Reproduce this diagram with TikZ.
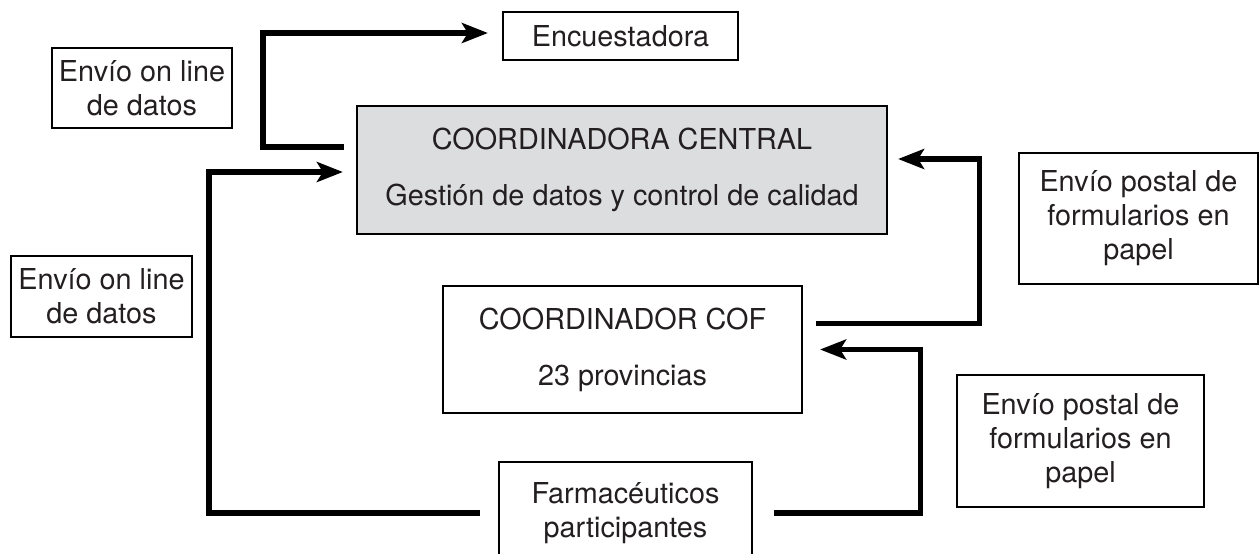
\documentclass[tikz,border=0pt]{standalone}
\usepackage{fontspec}
\setmainfont{TeX Gyre Heros}
\usetikzlibrary{arrows.meta}
\definecolor{txtgray}{RGB}{35,31,32}
\definecolor{boxgray}{RGB}{220,221,223}

\begin{document}
\begin{tikzpicture}[x=0.5pt,y=-0.5pt,
		box/.style={draw, line width=1.1pt, align=center, inner sep=0pt, text=txtgray,
			font=\fontsize{14.4}{17}\selectfont},
		flow/.style={line width=2.6pt, -{Stealth[length=13pt,width=10pt,inset=3pt]}}]

			\useasboundingbox (0,0) rectangle (1260,553);
			\clip (0,0) rectangle (1260,553);

			% boxes in the middle column
			\node[box, minimum width=117.5pt, minimum height=24pt] (enc) at (620.5,36) {Encuestadora};
			\node[box, fill=boxgray, minimum width=265pt, minimum height=64pt] (central) at (622,170)
				{COORDINADORA CENTRAL\\[11pt]Gestión de datos y control de calidad};
			\node[box, minimum width=179.5pt, minimum height=63.5pt] (cof) at (622.5,349.5)
				{COORDINADOR COF\\[11pt]23 provincias};
			\node[box, minimum width=126.5pt, minimum height=51pt] (farm) at (625.5,513)
				{Farmacéuticos\\participantes};

			% side labels
			\node[box, minimum width=90pt, minimum height=40pt] (online1) at (142,88) {Envío on line\\de datos};
			\node[box, minimum width=90.5pt, minimum height=40.5pt] (online2) at (101.5,296.5) {Envío on line\\de datos};
			\node[box, minimum width=119.5pt, minimum height=65.5pt] (postal1) at (1138.5,218.5)
				{Envío postal de\\formularios en\\papel};
			\node[box, minimum width=123.5pt, minimum height=66pt] (postal2) at (1080.5,441)
				{Envío postal de\\formularios en\\papel};

			% flows
			\draw[flow] ([xshift=-6pt,yshift=11.5pt]central.west) -- ++(-81,0) |- ([xshift=-7pt,yshift=1.5pt]enc.west);
			\draw[flow] ([xshift=-9pt]farm.west) -- ++(-271,0) |- ([xshift=-6.5pt,yshift=-1pt]central.west);
			\draw[flow] ([xshift=6.5pt,yshift=13pt]cof.east) -- ++(163,0) |- ([xshift=5pt,yshift=5.5pt]central.east);
			\draw[flow] ([xshift=10.5pt]farm.east) -- ++(146,0) |- ([xshift=8.5pt]cof.east);

		\end{tikzpicture}
\end{document}
